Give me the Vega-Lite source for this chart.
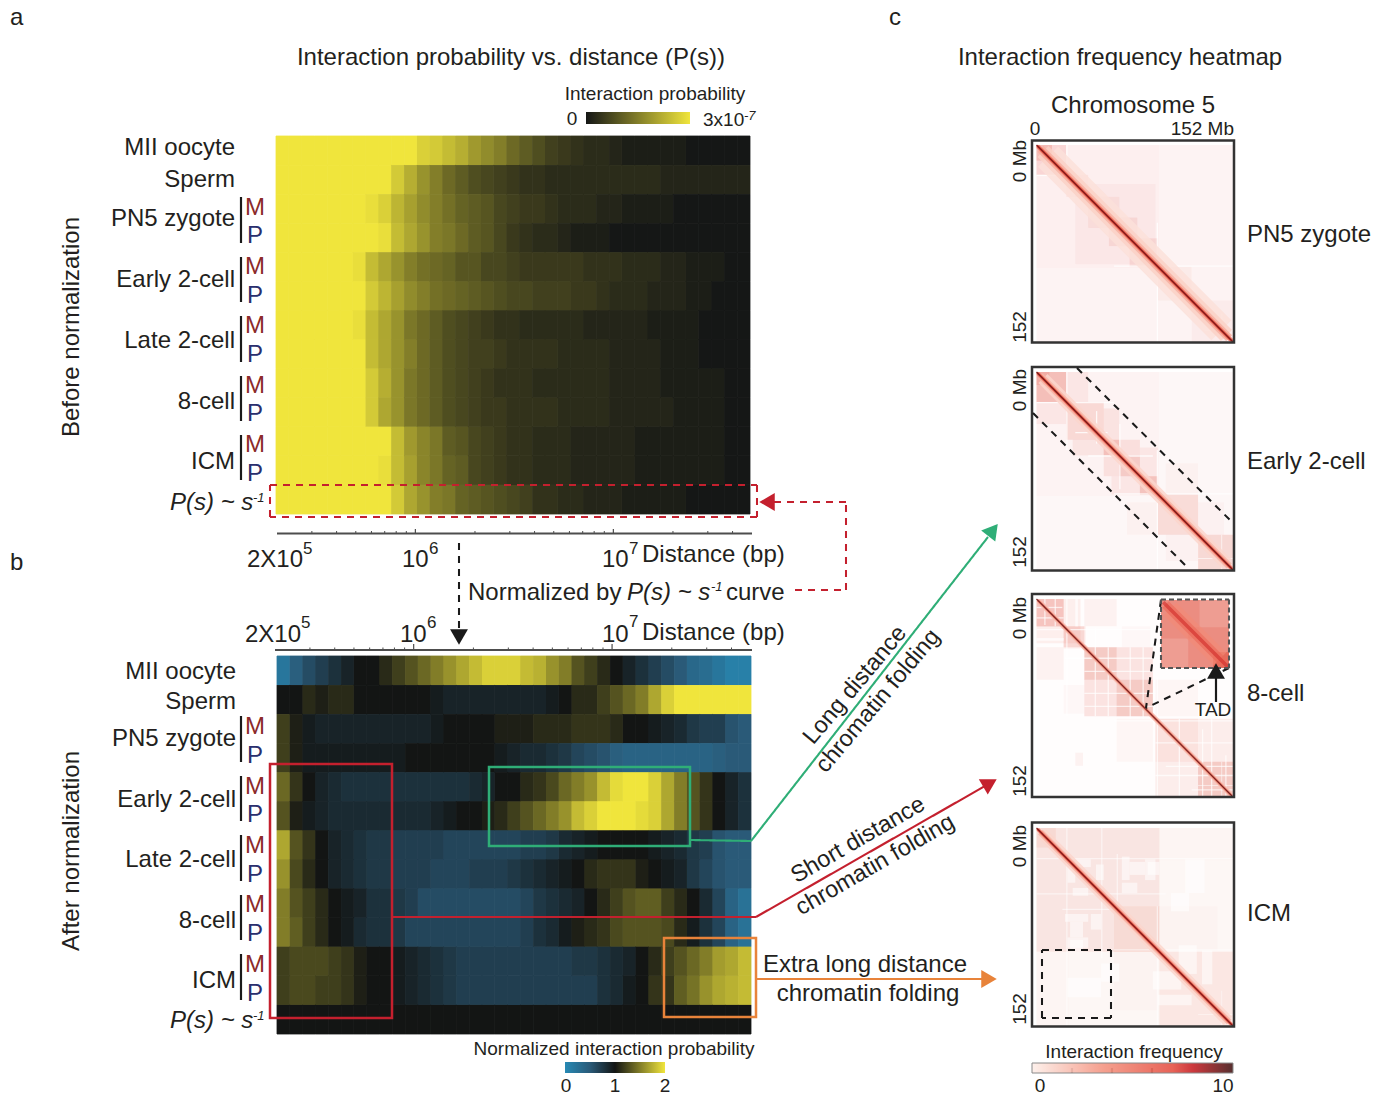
{"$schema":"https://vega.github.io/schema/vega-lite/v6.json","width":1390,"height":1097,"padding":0,"autosize":{"type":"none"},"background":"white","config":{"view":{"stroke":null},"text":{"font":"Liberation Sans","color":"#231f20","dy":1}},
"datasets":{
"beforeNorm":[
{"r":0,"c":0,"v":30},{"r":0,"c":1,"v":30},{"r":0,"c":2,"v":30},{"r":0,"c":3,"v":30},{"r":0,"c":4,"v":30},{"r":0,"c":5,"v":30},{"r":0,"c":6,"v":30},{"r":0,"c":7,"v":30},{"r":0,"c":8,"v":30},{"r":0,"c":9,"v":30},{"r":0,"c":10,"v":30},{"r":0,"c":11,"v":27},{"r":0,"c":12,"v":26},{"r":0,"c":13,"v":24},{"r":0,"c":14,"v":22},{"r":0,"c":15,"v":19},{"r":0,"c":16,"v":17},{"r":0,"c":17,"v":15},{"r":0,"c":18,"v":12},{"r":0,"c":19,"v":10},{"r":0,"c":20,"v":8},{"r":0,"c":21,"v":6},{"r":0,"c":22,"v":5},{"r":0,"c":23,"v":4},{"r":0,"c":24,"v":3},{"r":0,"c":25,"v":3},{"r":0,"c":26,"v":2},{"r":0,"c":27,"v":1},{"r":0,"c":28,"v":1},{"r":0,"c":29,"v":1},{"r":0,"c":30,"v":1},{"r":0,"c":31,"v":1},{"r":0,"c":32,"v":0},{"r":0,"c":33,"v":0},{"r":0,"c":34,"v":0},{"r":0,"c":35,"v":0},{"r":0,"c":36,"v":0},
{"r":1,"c":0,"v":30},{"r":1,"c":1,"v":30},{"r":1,"c":2,"v":30},{"r":1,"c":3,"v":30},{"r":1,"c":4,"v":30},{"r":1,"c":5,"v":30},{"r":1,"c":6,"v":30},{"r":1,"c":7,"v":30},{"r":1,"c":8,"v":30},{"r":1,"c":9,"v":26},{"r":1,"c":10,"v":22},{"r":1,"c":11,"v":18},{"r":1,"c":12,"v":15},{"r":1,"c":13,"v":12},{"r":1,"c":14,"v":10},{"r":1,"c":15,"v":8},{"r":1,"c":16,"v":7},{"r":1,"c":17,"v":6},{"r":1,"c":18,"v":5},{"r":1,"c":19,"v":4},{"r":1,"c":20,"v":4},{"r":1,"c":21,"v":3},{"r":1,"c":22,"v":3},{"r":1,"c":23,"v":3},{"r":1,"c":24,"v":3},{"r":1,"c":25,"v":3},{"r":1,"c":26,"v":3},{"r":1,"c":27,"v":3},{"r":1,"c":28,"v":3},{"r":1,"c":29,"v":3},{"r":1,"c":30,"v":2},{"r":1,"c":31,"v":2},{"r":1,"c":32,"v":2},{"r":1,"c":33,"v":2},{"r":1,"c":34,"v":2},{"r":1,"c":35,"v":2},{"r":1,"c":36,"v":2},
{"r":2,"c":0,"v":30},{"r":2,"c":1,"v":30},{"r":2,"c":2,"v":30},{"r":2,"c":3,"v":30},{"r":2,"c":4,"v":30},{"r":2,"c":5,"v":30},{"r":2,"c":6,"v":30},{"r":2,"c":7,"v":29},{"r":2,"c":8,"v":27},{"r":2,"c":9,"v":23},{"r":2,"c":10,"v":20},{"r":2,"c":11,"v":17},{"r":2,"c":12,"v":15},{"r":2,"c":13,"v":13},{"r":2,"c":14,"v":11},{"r":2,"c":15,"v":10},{"r":2,"c":16,"v":9},{"r":2,"c":17,"v":7},{"r":2,"c":18,"v":6},{"r":2,"c":19,"v":5},{"r":2,"c":20,"v":5},{"r":2,"c":21,"v":4},{"r":2,"c":22,"v":3},{"r":2,"c":23,"v":3},{"r":2,"c":24,"v":3},{"r":2,"c":25,"v":2},{"r":2,"c":26,"v":2},{"r":2,"c":27,"v":1},{"r":2,"c":28,"v":1},{"r":2,"c":29,"v":1},{"r":2,"c":30,"v":1},{"r":2,"c":31,"v":0},{"r":2,"c":32,"v":0},{"r":2,"c":33,"v":0},{"r":2,"c":34,"v":0},{"r":2,"c":35,"v":0},{"r":2,"c":36,"v":0},
{"r":3,"c":0,"v":30},{"r":3,"c":1,"v":30},{"r":3,"c":2,"v":30},{"r":3,"c":3,"v":30},{"r":3,"c":4,"v":30},{"r":3,"c":5,"v":30},{"r":3,"c":6,"v":30},{"r":3,"c":7,"v":30},{"r":3,"c":8,"v":29},{"r":3,"c":9,"v":24},{"r":3,"c":10,"v":21},{"r":3,"c":11,"v":18},{"r":3,"c":12,"v":15},{"r":3,"c":13,"v":14},{"r":3,"c":14,"v":12},{"r":3,"c":15,"v":10},{"r":3,"c":16,"v":9},{"r":3,"c":17,"v":7},{"r":3,"c":18,"v":5},{"r":3,"c":19,"v":4},{"r":3,"c":20,"v":3},{"r":3,"c":21,"v":3},{"r":3,"c":22,"v":2},{"r":3,"c":23,"v":1},{"r":3,"c":24,"v":1},{"r":3,"c":25,"v":1},{"r":3,"c":26,"v":0},{"r":3,"c":27,"v":0},{"r":3,"c":28,"v":0},{"r":3,"c":29,"v":0},{"r":3,"c":30,"v":0},{"r":3,"c":31,"v":0},{"r":3,"c":32,"v":0},{"r":3,"c":33,"v":0},{"r":3,"c":34,"v":0},{"r":3,"c":35,"v":0},{"r":3,"c":36,"v":0},
{"r":4,"c":0,"v":30},{"r":4,"c":1,"v":30},{"r":4,"c":2,"v":30},{"r":4,"c":3,"v":30},{"r":4,"c":4,"v":30},{"r":4,"c":5,"v":30},{"r":4,"c":6,"v":29},{"r":4,"c":7,"v":24},{"r":4,"c":8,"v":21},{"r":4,"c":9,"v":18},{"r":4,"c":10,"v":15},{"r":4,"c":11,"v":13},{"r":4,"c":12,"v":12},{"r":4,"c":13,"v":11},{"r":4,"c":14,"v":9},{"r":4,"c":15,"v":9},{"r":4,"c":16,"v":7},{"r":4,"c":17,"v":7},{"r":4,"c":18,"v":6},{"r":4,"c":19,"v":5},{"r":4,"c":20,"v":5},{"r":4,"c":21,"v":5},{"r":4,"c":22,"v":5},{"r":4,"c":23,"v":5},{"r":4,"c":24,"v":4},{"r":4,"c":25,"v":4},{"r":4,"c":26,"v":4},{"r":4,"c":27,"v":3},{"r":4,"c":28,"v":3},{"r":4,"c":29,"v":3},{"r":4,"c":30,"v":2},{"r":4,"c":31,"v":2},{"r":4,"c":32,"v":1},{"r":4,"c":33,"v":1},{"r":4,"c":34,"v":1},{"r":4,"c":35,"v":0},{"r":4,"c":36,"v":0},
{"r":5,"c":0,"v":30},{"r":5,"c":1,"v":30},{"r":5,"c":2,"v":30},{"r":5,"c":3,"v":30},{"r":5,"c":4,"v":30},{"r":5,"c":5,"v":30},{"r":5,"c":6,"v":30},{"r":5,"c":7,"v":26},{"r":5,"c":8,"v":23},{"r":5,"c":9,"v":20},{"r":5,"c":10,"v":17},{"r":5,"c":11,"v":15},{"r":5,"c":12,"v":13},{"r":5,"c":13,"v":12},{"r":5,"c":14,"v":11},{"r":5,"c":15,"v":10},{"r":5,"c":16,"v":9},{"r":5,"c":17,"v":8},{"r":5,"c":18,"v":7},{"r":5,"c":19,"v":7},{"r":5,"c":20,"v":6},{"r":5,"c":21,"v":6},{"r":5,"c":22,"v":6},{"r":5,"c":23,"v":5},{"r":5,"c":24,"v":5},{"r":5,"c":25,"v":4},{"r":5,"c":26,"v":3},{"r":5,"c":27,"v":3},{"r":5,"c":28,"v":3},{"r":5,"c":29,"v":2},{"r":5,"c":30,"v":2},{"r":5,"c":31,"v":2},{"r":5,"c":32,"v":1},{"r":5,"c":33,"v":1},{"r":5,"c":34,"v":0},{"r":5,"c":35,"v":0},{"r":5,"c":36,"v":0},
{"r":6,"c":0,"v":30},{"r":6,"c":1,"v":30},{"r":6,"c":2,"v":30},{"r":6,"c":3,"v":30},{"r":6,"c":4,"v":30},{"r":6,"c":5,"v":30},{"r":6,"c":6,"v":29},{"r":6,"c":7,"v":24},{"r":6,"c":8,"v":21},{"r":6,"c":9,"v":18},{"r":6,"c":10,"v":14},{"r":6,"c":11,"v":12},{"r":6,"c":12,"v":10},{"r":6,"c":13,"v":8},{"r":6,"c":14,"v":7},{"r":6,"c":15,"v":6},{"r":6,"c":16,"v":5},{"r":6,"c":17,"v":4},{"r":6,"c":18,"v":4},{"r":6,"c":19,"v":3},{"r":6,"c":20,"v":3},{"r":6,"c":21,"v":3},{"r":6,"c":22,"v":3},{"r":6,"c":23,"v":3},{"r":6,"c":24,"v":2},{"r":6,"c":25,"v":2},{"r":6,"c":26,"v":2},{"r":6,"c":27,"v":2},{"r":6,"c":28,"v":2},{"r":6,"c":29,"v":1},{"r":6,"c":30,"v":1},{"r":6,"c":31,"v":1},{"r":6,"c":32,"v":1},{"r":6,"c":33,"v":0},{"r":6,"c":34,"v":0},{"r":6,"c":35,"v":0},{"r":6,"c":36,"v":0},
{"r":7,"c":0,"v":30},{"r":7,"c":1,"v":30},{"r":7,"c":2,"v":30},{"r":7,"c":3,"v":30},{"r":7,"c":4,"v":30},{"r":7,"c":5,"v":30},{"r":7,"c":6,"v":30},{"r":7,"c":7,"v":24},{"r":7,"c":8,"v":21},{"r":7,"c":9,"v":18},{"r":7,"c":10,"v":15},{"r":7,"c":11,"v":12},{"r":7,"c":12,"v":10},{"r":7,"c":13,"v":8},{"r":7,"c":14,"v":7},{"r":7,"c":15,"v":6},{"r":7,"c":16,"v":6},{"r":7,"c":17,"v":5},{"r":7,"c":18,"v":4},{"r":7,"c":19,"v":4},{"r":7,"c":20,"v":4},{"r":7,"c":21,"v":4},{"r":7,"c":22,"v":3},{"r":7,"c":23,"v":3},{"r":7,"c":24,"v":3},{"r":7,"c":25,"v":3},{"r":7,"c":26,"v":2},{"r":7,"c":27,"v":2},{"r":7,"c":28,"v":2},{"r":7,"c":29,"v":2},{"r":7,"c":30,"v":1},{"r":7,"c":31,"v":1},{"r":7,"c":32,"v":1},{"r":7,"c":33,"v":0},{"r":7,"c":34,"v":0},{"r":7,"c":35,"v":0},{"r":7,"c":36,"v":0},
{"r":8,"c":0,"v":30},{"r":8,"c":1,"v":30},{"r":8,"c":2,"v":30},{"r":8,"c":3,"v":30},{"r":8,"c":4,"v":30},{"r":8,"c":5,"v":30},{"r":8,"c":6,"v":30},{"r":8,"c":7,"v":26},{"r":8,"c":8,"v":22},{"r":8,"c":9,"v":18},{"r":8,"c":10,"v":14},{"r":8,"c":11,"v":12},{"r":8,"c":12,"v":10},{"r":8,"c":13,"v":8},{"r":8,"c":14,"v":7},{"r":8,"c":15,"v":6},{"r":8,"c":16,"v":5},{"r":8,"c":17,"v":4},{"r":8,"c":18,"v":4},{"r":8,"c":19,"v":4},{"r":8,"c":20,"v":3},{"r":8,"c":21,"v":3},{"r":8,"c":22,"v":3},{"r":8,"c":23,"v":3},{"r":8,"c":24,"v":3},{"r":8,"c":25,"v":3},{"r":8,"c":26,"v":2},{"r":8,"c":27,"v":2},{"r":8,"c":28,"v":2},{"r":8,"c":29,"v":2},{"r":8,"c":30,"v":1},{"r":8,"c":31,"v":1},{"r":8,"c":32,"v":1},{"r":8,"c":33,"v":1},{"r":8,"c":34,"v":1},{"r":8,"c":35,"v":0},{"r":8,"c":36,"v":0},
{"r":9,"c":0,"v":30},{"r":9,"c":1,"v":30},{"r":9,"c":2,"v":30},{"r":9,"c":3,"v":30},{"r":9,"c":4,"v":30},{"r":9,"c":5,"v":30},{"r":9,"c":6,"v":30},{"r":9,"c":7,"v":26},{"r":9,"c":8,"v":21},{"r":9,"c":9,"v":18},{"r":9,"c":10,"v":14},{"r":9,"c":11,"v":12},{"r":9,"c":12,"v":10},{"r":9,"c":13,"v":8},{"r":9,"c":14,"v":7},{"r":9,"c":15,"v":6},{"r":9,"c":16,"v":5},{"r":9,"c":17,"v":5},{"r":9,"c":18,"v":4},{"r":9,"c":19,"v":4},{"r":9,"c":20,"v":4},{"r":9,"c":21,"v":4},{"r":9,"c":22,"v":3},{"r":9,"c":23,"v":3},{"r":9,"c":24,"v":3},{"r":9,"c":25,"v":3},{"r":9,"c":26,"v":2},{"r":9,"c":27,"v":2},{"r":9,"c":28,"v":2},{"r":9,"c":29,"v":2},{"r":9,"c":30,"v":2},{"r":9,"c":31,"v":1},{"r":9,"c":32,"v":1},{"r":9,"c":33,"v":1},{"r":9,"c":34,"v":1},{"r":9,"c":35,"v":0},{"r":9,"c":36,"v":0},
{"r":10,"c":0,"v":30},{"r":10,"c":1,"v":30},{"r":10,"c":2,"v":30},{"r":10,"c":3,"v":30},{"r":10,"c":4,"v":30},{"r":10,"c":5,"v":30},{"r":10,"c":6,"v":30},{"r":10,"c":7,"v":30},{"r":10,"c":8,"v":30},{"r":10,"c":9,"v":24},{"r":10,"c":10,"v":19},{"r":10,"c":11,"v":16},{"r":10,"c":12,"v":14},{"r":10,"c":13,"v":10},{"r":10,"c":14,"v":9},{"r":10,"c":15,"v":7},{"r":10,"c":16,"v":6},{"r":10,"c":17,"v":5},{"r":10,"c":18,"v":4},{"r":10,"c":19,"v":4},{"r":10,"c":20,"v":3},{"r":10,"c":21,"v":3},{"r":10,"c":22,"v":3},{"r":10,"c":23,"v":2},{"r":10,"c":24,"v":2},{"r":10,"c":25,"v":2},{"r":10,"c":26,"v":2},{"r":10,"c":27,"v":2},{"r":10,"c":28,"v":1},{"r":10,"c":29,"v":1},{"r":10,"c":30,"v":1},{"r":10,"c":31,"v":1},{"r":10,"c":32,"v":1},{"r":10,"c":33,"v":1},{"r":10,"c":34,"v":1},{"r":10,"c":35,"v":0},{"r":10,"c":36,"v":0},
{"r":11,"c":0,"v":30},{"r":11,"c":1,"v":30},{"r":11,"c":2,"v":30},{"r":11,"c":3,"v":30},{"r":11,"c":4,"v":30},{"r":11,"c":5,"v":30},{"r":11,"c":6,"v":30},{"r":11,"c":7,"v":30},{"r":11,"c":8,"v":29},{"r":11,"c":9,"v":24},{"r":11,"c":10,"v":20},{"r":11,"c":11,"v":16},{"r":11,"c":12,"v":14},{"r":11,"c":13,"v":11},{"r":11,"c":14,"v":10},{"r":11,"c":15,"v":7},{"r":11,"c":16,"v":6},{"r":11,"c":17,"v":5},{"r":11,"c":18,"v":4},{"r":11,"c":19,"v":4},{"r":11,"c":20,"v":3},{"r":11,"c":21,"v":3},{"r":11,"c":22,"v":3},{"r":11,"c":23,"v":2},{"r":11,"c":24,"v":2},{"r":11,"c":25,"v":2},{"r":11,"c":26,"v":2},{"r":11,"c":27,"v":2},{"r":11,"c":28,"v":1},{"r":11,"c":29,"v":1},{"r":11,"c":30,"v":1},{"r":11,"c":31,"v":1},{"r":11,"c":32,"v":1},{"r":11,"c":33,"v":1},{"r":11,"c":34,"v":1},{"r":11,"c":35,"v":0},{"r":11,"c":36,"v":0},
{"r":12,"c":0,"v":30},{"r":12,"c":1,"v":30},{"r":12,"c":2,"v":30},{"r":12,"c":3,"v":30},{"r":12,"c":4,"v":30},{"r":12,"c":5,"v":30},{"r":12,"c":6,"v":30},{"r":12,"c":7,"v":30},{"r":12,"c":8,"v":30},{"r":12,"c":9,"v":26},{"r":12,"c":10,"v":21},{"r":12,"c":11,"v":18},{"r":12,"c":12,"v":15},{"r":12,"c":13,"v":14},{"r":12,"c":14,"v":11},{"r":12,"c":15,"v":10},{"r":12,"c":16,"v":9},{"r":12,"c":17,"v":8},{"r":12,"c":18,"v":7},{"r":12,"c":19,"v":6},{"r":12,"c":20,"v":4},{"r":12,"c":21,"v":4},{"r":12,"c":22,"v":3},{"r":12,"c":23,"v":3},{"r":12,"c":24,"v":2},{"r":12,"c":25,"v":2},{"r":12,"c":26,"v":2},{"r":12,"c":27,"v":1},{"r":12,"c":28,"v":1},{"r":12,"c":29,"v":1},{"r":12,"c":30,"v":1},{"r":12,"c":31,"v":1},{"r":12,"c":32,"v":0},{"r":12,"c":33,"v":0},{"r":12,"c":34,"v":0},{"r":12,"c":35,"v":0},{"r":12,"c":36,"v":0}],
"afterNorm":[
{"r":0,"c":0,"v":2},{"r":0,"c":1,"v":4.5},{"r":0,"c":2,"v":6},{"r":0,"c":3,"v":7},{"r":0,"c":4,"v":8},{"r":0,"c":5,"v":9},{"r":0,"c":6,"v":10},{"r":0,"c":7,"v":10},{"r":0,"c":8,"v":11},{"r":0,"c":9,"v":12},{"r":0,"c":10,"v":13},{"r":0,"c":11,"v":14},{"r":0,"c":12,"v":15},{"r":0,"c":13,"v":16},{"r":0,"c":14,"v":17},{"r":0,"c":15,"v":18},{"r":0,"c":16,"v":19},{"r":0,"c":17,"v":19},{"r":0,"c":18,"v":19},{"r":0,"c":19,"v":18},{"r":0,"c":20,"v":17.5},{"r":0,"c":21,"v":16},{"r":0,"c":22,"v":15},{"r":0,"c":23,"v":13},{"r":0,"c":24,"v":12},{"r":0,"c":25,"v":11},{"r":0,"c":26,"v":10},{"r":0,"c":27,"v":9},{"r":0,"c":28,"v":8},{"r":0,"c":29,"v":7},{"r":0,"c":30,"v":6},{"r":0,"c":31,"v":5},{"r":0,"c":32,"v":3.5},{"r":0,"c":33,"v":3},{"r":0,"c":34,"v":2},{"r":0,"c":35,"v":1},{"r":0,"c":36,"v":1},
{"r":1,"c":0,"v":10},{"r":1,"c":1,"v":10},{"r":1,"c":2,"v":11},{"r":1,"c":3,"v":10.5},{"r":1,"c":4,"v":11},{"r":1,"c":5,"v":11},{"r":1,"c":6,"v":10},{"r":1,"c":7,"v":10},{"r":1,"c":8,"v":10},{"r":1,"c":9,"v":10},{"r":1,"c":10,"v":10},{"r":1,"c":11,"v":10},{"r":1,"c":12,"v":9.5},{"r":1,"c":13,"v":9},{"r":1,"c":14,"v":9},{"r":1,"c":15,"v":9},{"r":1,"c":16,"v":9},{"r":1,"c":17,"v":9},{"r":1,"c":18,"v":9},{"r":1,"c":19,"v":9},{"r":1,"c":20,"v":9},{"r":1,"c":21,"v":9.5},{"r":1,"c":22,"v":10},{"r":1,"c":23,"v":11},{"r":1,"c":24,"v":11},{"r":1,"c":25,"v":12},{"r":1,"c":26,"v":13},{"r":1,"c":27,"v":14},{"r":1,"c":28,"v":15},{"r":1,"c":29,"v":17},{"r":1,"c":30,"v":19},{"r":1,"c":31,"v":20},{"r":1,"c":32,"v":20},{"r":1,"c":33,"v":20},{"r":1,"c":34,"v":20},{"r":1,"c":35,"v":20},{"r":1,"c":36,"v":20},
{"r":2,"c":0,"v":12},{"r":2,"c":1,"v":10.5},{"r":2,"c":2,"v":9.5},{"r":2,"c":3,"v":9},{"r":2,"c":4,"v":9},{"r":2,"c":5,"v":9},{"r":2,"c":6,"v":9},{"r":2,"c":7,"v":9},{"r":2,"c":8,"v":9},{"r":2,"c":9,"v":9},{"r":2,"c":10,"v":9},{"r":2,"c":11,"v":9},{"r":2,"c":12,"v":9.5},{"r":2,"c":13,"v":10},{"r":2,"c":14,"v":10},{"r":2,"c":15,"v":10},{"r":2,"c":16,"v":10},{"r":2,"c":17,"v":10.5},{"r":2,"c":18,"v":10.5},{"r":2,"c":19,"v":10.5},{"r":2,"c":20,"v":11},{"r":2,"c":21,"v":11},{"r":2,"c":22,"v":11},{"r":2,"c":23,"v":11.5},{"r":2,"c":24,"v":11.5},{"r":2,"c":25,"v":11.5},{"r":2,"c":26,"v":11},{"r":2,"c":27,"v":10},{"r":2,"c":28,"v":10},{"r":2,"c":29,"v":9.5},{"r":2,"c":30,"v":9},{"r":2,"c":31,"v":8.5},{"r":2,"c":32,"v":7.5},{"r":2,"c":33,"v":7},{"r":2,"c":34,"v":7},{"r":2,"c":35,"v":5.5},{"r":2,"c":36,"v":5},
{"r":3,"c":0,"v":12},{"r":3,"c":1,"v":10.5},{"r":3,"c":2,"v":9.5},{"r":3,"c":3,"v":9.5},{"r":3,"c":4,"v":9.5},{"r":3,"c":5,"v":9.5},{"r":3,"c":6,"v":9.5},{"r":3,"c":7,"v":9.5},{"r":3,"c":8,"v":9.5},{"r":3,"c":9,"v":9.5},{"r":3,"c":10,"v":10},{"r":3,"c":11,"v":10},{"r":3,"c":12,"v":10},{"r":3,"c":13,"v":10},{"r":3,"c":14,"v":10},{"r":3,"c":15,"v":10},{"r":3,"c":16,"v":10},{"r":3,"c":17,"v":9.5},{"r":3,"c":18,"v":9},{"r":3,"c":19,"v":8.5},{"r":3,"c":20,"v":8.5},{"r":3,"c":21,"v":8},{"r":3,"c":22,"v":7.5},{"r":3,"c":23,"v":6.5},{"r":3,"c":24,"v":6},{"r":3,"c":25,"v":5.5},{"r":3,"c":26,"v":4.5},{"r":3,"c":27,"v":4},{"r":3,"c":28,"v":4},{"r":3,"c":29,"v":4},{"r":3,"c":30,"v":4},{"r":3,"c":31,"v":4},{"r":3,"c":32,"v":4},{"r":3,"c":33,"v":4},{"r":3,"c":34,"v":4.5},{"r":3,"c":35,"v":5},{"r":3,"c":36,"v":5},
{"r":4,"c":0,"v":14},{"r":4,"c":1,"v":11.5},{"r":4,"c":2,"v":10},{"r":4,"c":3,"v":9},{"r":4,"c":4,"v":8.5},{"r":4,"c":5,"v":8},{"r":4,"c":6,"v":8},{"r":4,"c":7,"v":8},{"r":4,"c":8,"v":8},{"r":4,"c":9,"v":8},{"r":4,"c":10,"v":8},{"r":4,"c":11,"v":8},{"r":4,"c":12,"v":8},{"r":4,"c":13,"v":8},{"r":4,"c":14,"v":8},{"r":4,"c":15,"v":8.5},{"r":4,"c":16,"v":9},{"r":4,"c":17,"v":10},{"r":4,"c":18,"v":10},{"r":4,"c":19,"v":11},{"r":4,"c":20,"v":11.5},{"r":4,"c":21,"v":12.5},{"r":4,"c":22,"v":14},{"r":4,"c":23,"v":15},{"r":4,"c":24,"v":16},{"r":4,"c":25,"v":18},{"r":4,"c":26,"v":19.5},{"r":4,"c":27,"v":20},{"r":4,"c":28,"v":20},{"r":4,"c":29,"v":19},{"r":4,"c":30,"v":17},{"r":4,"c":31,"v":15},{"r":4,"c":32,"v":13},{"r":4,"c":33,"v":11.5},{"r":4,"c":34,"v":10},{"r":4,"c":35,"v":9},{"r":4,"c":36,"v":8},
{"r":5,"c":0,"v":13},{"r":5,"c":1,"v":10.5},{"r":5,"c":2,"v":9.5},{"r":5,"c":3,"v":9},{"r":5,"c":4,"v":8.5},{"r":5,"c":5,"v":8.5},{"r":5,"c":6,"v":8.5},{"r":5,"c":7,"v":8.5},{"r":5,"c":8,"v":8.5},{"r":5,"c":9,"v":8.5},{"r":5,"c":10,"v":8.5},{"r":5,"c":11,"v":8.5},{"r":5,"c":12,"v":9},{"r":5,"c":13,"v":9.5},{"r":5,"c":14,"v":10},{"r":5,"c":15,"v":10},{"r":5,"c":16,"v":10.5},{"r":5,"c":17,"v":11},{"r":5,"c":18,"v":12},{"r":5,"c":19,"v":13},{"r":5,"c":20,"v":14},{"r":5,"c":21,"v":15},{"r":5,"c":22,"v":16},{"r":5,"c":23,"v":18},{"r":5,"c":24,"v":19},{"r":5,"c":25,"v":20},{"r":5,"c":26,"v":20},{"r":5,"c":27,"v":20},{"r":5,"c":28,"v":19.5},{"r":5,"c":29,"v":19},{"r":5,"c":30,"v":17},{"r":5,"c":31,"v":15},{"r":5,"c":32,"v":13},{"r":5,"c":33,"v":11.5},{"r":5,"c":34,"v":10},{"r":5,"c":35,"v":9},{"r":5,"c":36,"v":8},
{"r":6,"c":0,"v":17},{"r":6,"c":1,"v":13},{"r":6,"c":2,"v":11.5},{"r":6,"c":3,"v":10},{"r":6,"c":4,"v":9},{"r":6,"c":5,"v":8.5},{"r":6,"c":6,"v":8},{"r":6,"c":7,"v":7.5},{"r":6,"c":8,"v":7.5},{"r":6,"c":9,"v":7},{"r":6,"c":10,"v":7},{"r":6,"c":11,"v":7},{"r":6,"c":12,"v":7},{"r":6,"c":13,"v":6.5},{"r":6,"c":14,"v":6.5},{"r":6,"c":15,"v":6.5},{"r":6,"c":16,"v":6.5},{"r":6,"c":17,"v":6.5},{"r":6,"c":18,"v":6.5},{"r":6,"c":19,"v":7},{"r":6,"c":20,"v":7},{"r":6,"c":21,"v":7.5},{"r":6,"c":22,"v":8.5},{"r":6,"c":23,"v":9},{"r":6,"c":24,"v":9.5},{"r":6,"c":25,"v":10},{"r":6,"c":26,"v":10},{"r":6,"c":27,"v":10},{"r":6,"c":28,"v":10},{"r":6,"c":29,"v":9.5},{"r":6,"c":30,"v":9},{"r":6,"c":31,"v":8.5},{"r":6,"c":32,"v":7.5},{"r":6,"c":33,"v":7},{"r":6,"c":34,"v":5.5},{"r":6,"c":35,"v":5},{"r":6,"c":36,"v":5},
{"r":7,"c":0,"v":16},{"r":7,"c":1,"v":12.5},{"r":7,"c":2,"v":11},{"r":7,"c":3,"v":10},{"r":7,"c":4,"v":9},{"r":7,"c":5,"v":8.5},{"r":7,"c":6,"v":8},{"r":7,"c":7,"v":7.5},{"r":7,"c":8,"v":7.5},{"r":7,"c":9,"v":7},{"r":7,"c":10,"v":7},{"r":7,"c":11,"v":7},{"r":7,"c":12,"v":6.5},{"r":7,"c":13,"v":6.5},{"r":7,"c":14,"v":6.5},{"r":7,"c":15,"v":7},{"r":7,"c":16,"v":7},{"r":7,"c":17,"v":7},{"r":7,"c":18,"v":7.5},{"r":7,"c":19,"v":8},{"r":7,"c":20,"v":8.5},{"r":7,"c":21,"v":9},{"r":7,"c":22,"v":9.5},{"r":7,"c":23,"v":10},{"r":7,"c":24,"v":11},{"r":7,"c":25,"v":11.5},{"r":7,"c":26,"v":11.5},{"r":7,"c":27,"v":11.5},{"r":7,"c":28,"v":10.5},{"r":7,"c":29,"v":10},{"r":7,"c":30,"v":9.5},{"r":7,"c":31,"v":9},{"r":7,"c":32,"v":7.5},{"r":7,"c":33,"v":6.5},{"r":7,"c":34,"v":5.5},{"r":7,"c":35,"v":5},{"r":7,"c":36,"v":5},
{"r":8,"c":0,"v":15},{"r":8,"c":1,"v":13},{"r":8,"c":2,"v":12},{"r":8,"c":3,"v":11},{"r":8,"c":4,"v":10},{"r":8,"c":5,"v":9.5},{"r":8,"c":6,"v":9},{"r":8,"c":7,"v":8},{"r":8,"c":8,"v":8},{"r":8,"c":9,"v":7.5},{"r":8,"c":10,"v":7},{"r":8,"c":11,"v":6},{"r":8,"c":12,"v":6},{"r":8,"c":13,"v":6},{"r":8,"c":14,"v":6},{"r":8,"c":15,"v":6},{"r":8,"c":16,"v":6},{"r":8,"c":17,"v":6},{"r":8,"c":18,"v":6},{"r":8,"c":19,"v":6.5},{"r":8,"c":20,"v":7.5},{"r":8,"c":21,"v":8},{"r":8,"c":22,"v":8.5},{"r":8,"c":23,"v":9},{"r":8,"c":24,"v":10},{"r":8,"c":25,"v":11},{"r":8,"c":26,"v":12},{"r":8,"c":27,"v":13},{"r":8,"c":28,"v":13.5},{"r":8,"c":29,"v":13.5},{"r":8,"c":30,"v":12},{"r":8,"c":31,"v":11},{"r":8,"c":32,"v":10},{"r":8,"c":33,"v":8.5},{"r":8,"c":34,"v":6.5},{"r":8,"c":35,"v":4},{"r":8,"c":36,"v":2.5},
{"r":9,"c":0,"v":15},{"r":9,"c":1,"v":13.5},{"r":9,"c":2,"v":12},{"r":9,"c":3,"v":11},{"r":9,"c":4,"v":10},{"r":9,"c":5,"v":9.5},{"r":9,"c":6,"v":8.5},{"r":9,"c":7,"v":8},{"r":9,"c":8,"v":8},{"r":9,"c":9,"v":7.5},{"r":9,"c":10,"v":6.5},{"r":9,"c":11,"v":6.5},{"r":9,"c":12,"v":6.5},{"r":9,"c":13,"v":6.5},{"r":9,"c":14,"v":6.5},{"r":9,"c":15,"v":6.5},{"r":9,"c":16,"v":6.5},{"r":9,"c":17,"v":6.5},{"r":9,"c":18,"v":6.5},{"r":9,"c":19,"v":7},{"r":9,"c":20,"v":8},{"r":9,"c":21,"v":8.5},{"r":9,"c":22,"v":9.5},{"r":9,"c":23,"v":10.5},{"r":9,"c":24,"v":11},{"r":9,"c":25,"v":11.5},{"r":9,"c":26,"v":12.5},{"r":9,"c":27,"v":13},{"r":9,"c":28,"v":13},{"r":9,"c":29,"v":13},{"r":9,"c":30,"v":12.5},{"r":9,"c":31,"v":11},{"r":9,"c":32,"v":9.5},{"r":9,"c":33,"v":8},{"r":9,"c":34,"v":6.5},{"r":9,"c":35,"v":4},{"r":9,"c":36,"v":2.5},
{"r":10,"c":0,"v":12},{"r":10,"c":1,"v":12.5},{"r":10,"c":2,"v":12.5},{"r":10,"c":3,"v":12.5},{"r":10,"c":4,"v":12},{"r":10,"c":5,"v":11.5},{"r":10,"c":6,"v":10.5},{"r":10,"c":7,"v":10},{"r":10,"c":8,"v":10},{"r":10,"c":9,"v":9.5},{"r":10,"c":10,"v":9},{"r":10,"c":11,"v":8.5},{"r":10,"c":12,"v":8},{"r":10,"c":13,"v":7.5},{"r":10,"c":14,"v":7},{"r":10,"c":15,"v":7},{"r":10,"c":16,"v":7},{"r":10,"c":17,"v":7},{"r":10,"c":18,"v":7},{"r":10,"c":19,"v":7},{"r":10,"c":20,"v":7},{"r":10,"c":21,"v":7},{"r":10,"c":22,"v":7},{"r":10,"c":23,"v":7.5},{"r":10,"c":24,"v":7.5},{"r":10,"c":25,"v":8},{"r":10,"c":26,"v":8.5},{"r":10,"c":27,"v":9},{"r":10,"c":28,"v":10},{"r":10,"c":29,"v":11},{"r":10,"c":30,"v":12},{"r":10,"c":31,"v":13},{"r":10,"c":32,"v":14},{"r":10,"c":33,"v":15},{"r":10,"c":34,"v":16.5},{"r":10,"c":35,"v":17},{"r":10,"c":36,"v":18},
{"r":11,"c":0,"v":12},{"r":11,"c":1,"v":12.5},{"r":11,"c":2,"v":12.5},{"r":11,"c":3,"v":12},{"r":11,"c":4,"v":12},{"r":11,"c":5,"v":11.5},{"r":11,"c":6,"v":10.5},{"r":11,"c":7,"v":10},{"r":11,"c":8,"v":10},{"r":11,"c":9,"v":9.5},{"r":11,"c":10,"v":9},{"r":11,"c":11,"v":8.5},{"r":11,"c":12,"v":8},{"r":11,"c":13,"v":7.5},{"r":11,"c":14,"v":7},{"r":11,"c":15,"v":7},{"r":11,"c":16,"v":7},{"r":11,"c":17,"v":7},{"r":11,"c":18,"v":7},{"r":11,"c":19,"v":7},{"r":11,"c":20,"v":7},{"r":11,"c":21,"v":7},{"r":11,"c":22,"v":7},{"r":11,"c":23,"v":7},{"r":11,"c":24,"v":7},{"r":11,"c":25,"v":8},{"r":11,"c":26,"v":8.5},{"r":11,"c":27,"v":9.5},{"r":11,"c":28,"v":10},{"r":11,"c":29,"v":11.5},{"r":11,"c":30,"v":11.5},{"r":11,"c":31,"v":13.5},{"r":11,"c":32,"v":14.5},{"r":11,"c":33,"v":16},{"r":11,"c":34,"v":17},{"r":11,"c":35,"v":17.5},{"r":11,"c":36,"v":18},
{"r":12,"c":0,"v":10},{"r":12,"c":1,"v":10},{"r":12,"c":2,"v":10},{"r":12,"c":3,"v":10},{"r":12,"c":4,"v":10},{"r":12,"c":5,"v":10},{"r":12,"c":6,"v":10},{"r":12,"c":7,"v":10},{"r":12,"c":8,"v":10},{"r":12,"c":9,"v":10},{"r":12,"c":10,"v":10},{"r":12,"c":11,"v":10},{"r":12,"c":12,"v":10},{"r":12,"c":13,"v":10},{"r":12,"c":14,"v":10},{"r":12,"c":15,"v":10},{"r":12,"c":16,"v":10},{"r":12,"c":17,"v":10},{"r":12,"c":18,"v":10},{"r":12,"c":19,"v":10},{"r":12,"c":20,"v":10},{"r":12,"c":21,"v":10},{"r":12,"c":22,"v":10},{"r":12,"c":23,"v":10},{"r":12,"c":24,"v":10},{"r":12,"c":25,"v":10},{"r":12,"c":26,"v":10},{"r":12,"c":27,"v":10},{"r":12,"c":28,"v":10},{"r":12,"c":29,"v":10},{"r":12,"c":30,"v":10},{"r":12,"c":31,"v":10},{"r":12,"c":32,"v":10},{"r":12,"c":33,"v":10},{"r":12,"c":34,"v":10},{"r":12,"c":35,"v":10},{"r":12,"c":36,"v":10}],
"majorTicks":[{"d":1000000},{"d":10000000}],
"minorTicks":[{"d":300000},{"d":400000},{"d":500000},{"d":600000},{"d":700000},{"d":800000},{"d":900000},{"d":2000000},{"d":3000000},{"d":4000000},{"d":5000000},{"d":6000000},{"d":7000000},{"d":8000000},{"d":9000000},{"d":20000000},{"d":30000000},{"d":40000000}],
"zygoteBlocks":[{"a":0,"b":152,"c":0,"d":152,"v":0.3},{"a":0,"b":23,"c":0,"d":23,"v":0.7},{"a":0,"b":12,"c":0,"d":12,"v":1},{"a":0,"b":95,"c":0,"d":95,"v":0.1},{"a":30,"b":92,"c":30,"d":92,"v":0.2},{"a":40,"b":64,"c":40,"d":64,"v":0.35},{"a":56,"b":78,"c":56,"d":78,"v":0.5},{"a":72,"b":94,"c":72,"d":94,"v":0.55},{"a":94,"b":120,"c":94,"d":120,"v":0.25},{"a":120,"b":152,"c":120,"d":152,"v":0.2},{"a":23,"b":40,"c":23,"d":40,"v":0.35}],
"zygoteStripes":[{"a":23,"b":24,"c":0,"d":23},{"a":93,"b":94,"c":60,"d":152},{"a":143,"b":143.6,"c":130,"d":152}],
"zygoteBands":[{"a":9,"b":143,"d":22,"v":0.5},{"a":5,"b":147,"d":12,"v":1.1},{"a":3,"b":149,"d":6.5,"v":2.4},{"a":1,"b":151,"d":3.4,"v":4.6},{"a":0.5,"b":151.5,"d":2,"v":7},{"a":0,"b":152,"d":1.1,"v":9.2}],
"earlyBlocks":[{"a":0,"b":152,"c":0,"d":152,"v":0.18},{"a":0,"b":23,"c":0,"d":23,"v":1.6},{"a":0,"b":10,"c":0,"d":10,"v":0.8},{"a":0,"b":95,"c":0,"d":95,"v":0.12},{"a":23,"b":52,"c":23,"d":52,"v":0.8},{"a":52,"b":64,"c":52,"d":64,"v":1.6},{"a":52,"b":64,"c":28,"d":52,"v":0.9},{"a":64,"b":80,"c":64,"d":80,"v":1.2},{"a":64,"b":80,"c":52,"d":64,"v":1.1},{"a":80,"b":94,"c":80,"d":94,"v":1.5},{"a":80,"b":94,"c":58,"d":80,"v":0.7},{"a":94,"b":125,"c":94,"d":125,"v":0.8},{"a":125,"b":152,"c":125,"d":152,"v":0.9},{"a":23,"b":40,"c":0,"d":23,"v":0.7},{"a":100,"b":125,"c":70,"d":94,"v":0.35},{"a":125,"b":145,"c":100,"d":125,"v":0.3}],
"earlyStripes":[{"a":23,"b":24,"c":0,"d":60},{"a":93,"b":94,"c":60,"d":152},{"a":143,"b":143.6,"c":125,"d":152},{"a":64,"b":65,"c":40,"d":90},{"a":46,"b":47,"c":30,"d":55}],
"earlyBands":[{"a":5,"b":147,"d":10,"v":0.9},{"a":3,"b":149,"d":5.5,"v":2.2},{"a":1,"b":151,"d":3,"v":4.4},{"a":0.5,"b":151.5,"d":1.8,"v":7},{"a":0,"b":152,"d":1,"v":9.4}],
"eightBlocks":[{"a":0,"b":152,"c":0,"d":152,"v":0.05},{"a":0,"b":21,"c":0,"d":21,"v":1.7},{"a":0,"b":38,"c":21,"d":34,"v":0.8},{"a":21,"b":37,"c":21,"d":37,"v":0.7},{"a":37,"b":62,"c":37,"d":62,"v":1.5},{"a":37,"b":62,"c":0,"d":21,"v":0.6},{"a":62,"b":90,"c":62,"d":90,"v":1.5},{"a":62,"b":90,"c":37,"d":62,"v":1.4},{"a":92,"b":125,"c":92,"d":125,"v":0.8},{"a":125,"b":152,"c":125,"d":152,"v":1.5},{"a":125,"b":152,"c":92,"d":125,"v":0.9},{"a":92,"b":125,"c":62,"d":90,"v":0.4},{"a":66,"b":88,"c":21,"d":37,"v":0.3},{"a":30,"b":36,"c":118,"d":128,"v":0.6}],
"eightStripes":[{"a":23,"b":24,"c":0,"d":90},{"a":93,"b":94,"c":60,"d":152},{"a":143,"b":143.6,"c":125,"d":152},{"a":6,"b":7,"c":0,"d":20},{"a":14,"b":15,"c":0,"d":21},{"a":30,"b":32,"c":0,"d":21},{"a":45,"b":46,"c":22,"d":90},{"a":72,"b":73,"c":37,"d":92},{"a":135,"b":136,"c":92,"d":152},{"a":55,"b":56,"c":37,"d":90},{"a":82,"b":83,"c":37,"d":92},{"a":110,"b":111,"c":92,"d":152},{"a":128,"b":129,"c":100,"d":152},{"a":146,"b":147,"c":120,"d":152}],
"eightBands":[{"a":2,"b":150,"d":4,"v":1.8},{"a":1,"b":151,"d":2.2,"v":4.5},{"a":0,"b":152,"d":0.9,"v":9.4}],
"icmBlocks":[{"a":0,"b":152,"c":0,"d":152,"v":0.25},{"a":0,"b":95,"c":0,"d":95,"v":0.5},{"a":95,"b":152,"c":95,"d":152,"v":0.45},{"a":0,"b":15,"c":0,"d":15,"v":0.4},{"a":60,"b":95,"c":60,"d":95,"v":0.35},{"a":95,"b":152,"c":0,"d":25,"v":0.1},{"a":94,"b":140,"c":60,"d":94,"v":0.2}],
"icmStripes":[{"a":23,"b":24,"c":0,"d":152},{"a":93,"b":94,"c":60,"d":152},{"a":143,"b":143.6,"c":125,"d":152},{"a":24,"b":30,"c":30,"d":42},{"a":46,"b":52,"c":28,"d":40},{"a":66,"b":72,"c":22,"d":40},{"a":84,"b":92,"c":24,"d":40},{"a":104,"b":118,"c":50,"d":64},{"a":110,"b":124,"c":90,"d":112},{"a":115,"b":130,"c":24,"d":50},{"a":26,"b":36,"c":72,"d":84},{"a":26,"b":36,"c":86,"d":95},{"a":42,"b":50,"c":66,"d":78},{"a":50,"b":51,"c":0,"d":100},{"a":62,"b":63,"c":20,"d":60},{"a":128,"b":136,"c":94,"d":120}],
"icmBands":[{"a":4,"b":148,"d":9,"v":0.9},{"a":3,"b":149,"d":5,"v":2.2},{"a":1,"b":151,"d":2.8,"v":4.4},{"a":0.5,"b":151.5,"d":1.7,"v":7},{"a":0,"b":152,"d":1,"v":9.2}],
"insetBlocks":[{"a":40,"b":70,"c":40,"d":70,"v":5.4},{"a":40,"b":57,"c":40,"d":57,"v":1.8},{"a":52,"b":70,"c":52,"d":70,"v":1.8},{"a":63,"b":70,"c":63,"d":70,"v":5}],
"insetBands":[{"a":44,"b":66,"d":8,"v":3.8},{"a":42,"b":68,"d":4,"v":5.5},{"a":41,"b":70,"d":1.6,"v":7.6}],
"segments":[
{"x0":277,"y0":533.5,"x1":752,"y1":533.5,"k":"axis"},{"x0":275,"y0":650,"x1":752,"y1":650,"k":"axis"},
{"x0":795,"y0":590,"x1":846,"y1":590,"k":"reddash"},{"x0":846,"y0":590,"x1":846,"y1":502,"k":"reddash"},{"x0":846,"y0":502,"x1":772,"y1":502,"k":"reddash"},
{"x0":270,"y0":485,"x1":757,"y1":485,"k":"reddash"},{"x0":757,"y0":485,"x1":757,"y1":517,"k":"reddash"},{"x0":757,"y0":517,"x1":270,"y1":517,"k":"reddash"},{"x0":270,"y0":517,"x1":270,"y1":485,"k":"reddash"},
{"x0":459,"y0":543,"x1":459,"y1":630,"k":"blackdash"},
{"x0":690,"y0":840,"x1":751,"y1":841,"k":"green"},{"x0":751,"y0":841,"x1":988,"y1":537,"k":"green"},
{"x0":392,"y0":917,"x1":756,"y1":917,"k":"redline"},{"x0":756,"y0":917,"x1":985,"y1":786,"k":"redline"},
{"x0":756,"y0":979,"x1":982,"y1":979,"k":"orange"},
{"x0":1161,"y0":600,"x1":1146,"y1":708,"k":"blackdash"},{"x0":1229,"y0":668,"x1":1146,"y1":708,"k":"blackdash"},
{"x0":1077,"y0":368,"x1":1233,"y1":523,"k":"blackdash"},{"x0":1033,"y0":413,"x1":1188,"y1":568,"k":"blackdash"},
{"x0":1161,"y0":599.5,"x1":1229,"y1":599.5,"k":"graydash"},{"x0":1229,"y0":599.5,"x1":1229,"y1":668,"k":"graydash"},{"x0":1229,"y0":668,"x1":1161,"y1":668,"k":"graydash"},{"x0":1161,"y0":668,"x1":1161,"y1":599.5,"k":"graydash"},
{"x0":1042,"y0":950,"x1":1111,"y1":950,"k":"blackdash"},{"x0":1111,"y0":950,"x1":1111,"y1":1018,"k":"blackdash"},{"x0":1111,"y0":1018,"x1":1042,"y1":1018,"k":"blackdash"},{"x0":1042,"y0":1018,"x1":1042,"y1":950,"k":"blackdash"},
{"x0":1216,"y0":702,"x1":1216,"y1":672,"k":"black"},
{"x0":241,"y0":197,"x1":241,"y1":243,"k":"black"},{"x0":241,"y0":257,"x1":241,"y1":302,"k":"black"},{"x0":241,"y0":316,"x1":241,"y1":362,"k":"black"},{"x0":241,"y0":376,"x1":241,"y1":421,"k":"black"},{"x0":241,"y0":435,"x1":241,"y1":480,"k":"black"},
{"x0":241,"y0":716,"x1":241,"y1":762,"k":"black"},{"x0":241,"y0":776,"x1":241,"y1":821,"k":"black"},{"x0":241,"y0":835,"x1":241,"y1":881,"k":"black"},{"x0":241,"y0":895,"x1":241,"y1":940,"k":"black"},{"x0":241,"y0":954,"x1":241,"y1":1000,"k":"black"},
{"x0":1072,"y0":1068,"x1":1072,"y1":1073,"k":"tick"},{"x0":1112,"y0":1068,"x1":1112,"y1":1073,"k":"tick"},{"x0":1152,"y0":1068,"x1":1152,"y1":1073,"k":"tick"}],
"boxes":[
{"x0":1032,"y0":140.5,"x1":1234,"y1":342.5,"k":"frame"},{"x0":1032,"y0":367,"x1":1234,"y1":570.5,"k":"frame"},{"x0":1032,"y0":594,"x1":1234,"y1":797,"k":"frame"},{"x0":1032,"y0":822.5,"x1":1234,"y1":1026.5,"k":"frame"},
{"x0":270,"y0":764,"x1":392,"y1":1018,"k":"redline"},{"x0":489,"y0":767,"x1":690,"y1":846,"k":"green"},{"x0":664,"y0":938,"x1":756,"y1":1017,"k":"orange"}],
"arrowHeads":[{"x":993,"y":530,"ang":38,"k":"green"},{"x":990,"y":783,"ang":60,"k":"redline"},{"x":989,"y":979,"ang":90,"k":"orange"},{"x":767,"y":502,"ang":270,"k":"reddash"},{"x":459,"y":637,"ang":180,"k":"blackdash"},{"x":1216,"y":671,"ang":0,"k":"black"}]
},
"resolve":{"scale":{"x":"independent","y":"independent","color":"independent","opacity":"independent","strokeWidth":"independent","stroke":"independent","strokeDash":"independent","size":"independent","angle":"independent"}},
"layer":[
{"data":{"name":"beforeNorm"},"mark":{"type":"rect","strokeWidth":0.8,"fillOpacity":0},"encoding":{"x":{"field":"c","type":"ordinal","scale":{"type":"band","range":[276,750],"paddingInner":0,"paddingOuter":0},"axis":null},"y":{"field":"r","type":"ordinal","scale":{"type":"band","range":[136,514],"paddingInner":0,"paddingOuter":0},"axis":null},"stroke":{"field":"v","type":"quantitative","scale":{"domain":[0,30],"range":["#151716","#f0e53c"],"interpolate":"rgb","clamp":true},"legend":null}}},
{"data":{"name":"beforeNorm"},"mark":{"type":"rect"},"encoding":{"x":{"field":"c","type":"ordinal","scale":{"type":"band","range":[276,750],"paddingInner":0,"paddingOuter":0},"axis":null},"y":{"field":"r","type":"ordinal","scale":{"type":"band","range":[136,514],"paddingInner":0,"paddingOuter":0},"axis":null},"color":{"field":"v","type":"quantitative","scale":{"domain":[0,30],"range":["#151716","#f0e53c"],"interpolate":"rgb","clamp":true},"legend":{"orient":"none","legendX":586,"legendY":112,"direction":"horizontal","gradientLength":104,"gradientThickness":12,"title":null,"labelExpr":"''","labelOpacity":0,"padding":0,"gradientStrokeWidth":0}}}},
{"data":{"name":"afterNorm"},"mark":{"type":"rect","strokeWidth":0.8,"fillOpacity":0},"encoding":{"x":{"field":"c","type":"ordinal","scale":{"type":"band","range":[277,751],"paddingInner":0,"paddingOuter":0},"axis":null},"y":{"field":"r","type":"ordinal","scale":{"type":"band","range":[656,1034],"paddingInner":0,"paddingOuter":0},"axis":null},"stroke":{"field":"v","type":"quantitative","scale":{"domain":[0,5,10,20],"range":["#2789b4","#2a5a78","#131514","#f0e53c"],"interpolate":"rgb","clamp":true},"legend":null}}},
{"data":{"name":"afterNorm"},"mark":{"type":"rect"},"encoding":{"x":{"field":"c","type":"ordinal","scale":{"type":"band","range":[277,751],"paddingInner":0,"paddingOuter":0},"axis":null},"y":{"field":"r","type":"ordinal","scale":{"type":"band","range":[656,1034],"paddingInner":0,"paddingOuter":0},"axis":null},"color":{"field":"v","type":"quantitative","scale":{"domain":[0,5,10,20],"range":["#2789b4","#2a5a78","#131514","#f0e53c"],"interpolate":"rgb","clamp":true},"legend":{"orient":"none","legendX":565,"legendY":1062,"direction":"horizontal","gradientLength":100,"gradientThickness":11,"title":null,"labelExpr":"''","labelOpacity":0,"padding":0,"gradientStrokeWidth":0}}}},
{"data":{"name":"majorTicks"},"mark":{"type":"rule","color":"#4d4d4d","strokeWidth":1.2},"encoding":{"x":{"field":"d","type":"quantitative","scale":{"type":"log","domain":[200000,49000000],"range":[277,750]},"axis":null},"y":{"value":529},"y2":{"value":533}}},
{"data":{"name":"minorTicks"},"mark":{"type":"rule","color":"#4d4d4d","strokeWidth":1},"encoding":{"x":{"field":"d","type":"quantitative","scale":{"type":"log","domain":[200000,49000000],"range":[277,750]},"axis":null},"y":{"value":531},"y2":{"value":533}}},
{"data":{"name":"majorTicks"},"mark":{"type":"rule","color":"#4d4d4d","strokeWidth":1.2},"encoding":{"x":{"field":"d","type":"quantitative","scale":{"type":"log","domain":[200000,49000000],"range":[275,749]},"axis":null},"y":{"value":644},"y2":{"value":650}}},
{"data":{"name":"minorTicks"},"mark":{"type":"rule","color":"#4d4d4d","strokeWidth":1},"encoding":{"x":{"field":"d","type":"quantitative","scale":{"type":"log","domain":[200000,49000000],"range":[275,749]},"axis":null},"y":{"value":647.5},"y2":{"value":650}}},

{"data":{"name":"zygoteBlocks"},"mark":{"type":"rect","fill":"#e04a36"},"encoding":{"x":{"field":"a","type":"quantitative","scale":{"domain":[0,152],"range":[1036.5,1233]},"axis":null},"x2":{"field":"b"},"y":{"field":"c","type":"quantitative","scale":{"domain":[0,152],"range":[145,342]},"axis":null},"y2":{"field":"d"},"opacity":{"field":"v","type":"quantitative","scale":{"domain":[0,10],"range":[0,1]},"legend":null}}},
{"data":{"name":"zygoteBlocks"},"mark":{"type":"rect","fill":"#e04a36"},"encoding":{"x":{"field":"c","type":"quantitative","scale":{"domain":[0,152],"range":[1036.5,1233]},"axis":null},"x2":{"field":"d"},"y":{"field":"a","type":"quantitative","scale":{"domain":[0,152],"range":[145,342]},"axis":null},"y2":{"field":"b"},"opacity":{"field":"v","type":"quantitative","scale":{"domain":[0,10],"range":[0,1]},"legend":null}}},
{"data":{"name":"zygoteStripes"},"mark":{"type":"rect","fill":"white","opacity":0.8},"encoding":{"x":{"field":"a","type":"quantitative","scale":{"domain":[0,152],"range":[1036.5,1233]},"axis":null},"x2":{"field":"b"},"y":{"field":"c","type":"quantitative","scale":{"domain":[0,152],"range":[145,342]},"axis":null},"y2":{"field":"d"}}},
{"data":{"name":"zygoteStripes"},"mark":{"type":"rect","fill":"white","opacity":0.8},"encoding":{"x":{"field":"c","type":"quantitative","scale":{"domain":[0,152],"range":[1036.5,1233]},"axis":null},"x2":{"field":"d"},"y":{"field":"a","type":"quantitative","scale":{"domain":[0,152],"range":[145,342]},"axis":null},"y2":{"field":"b"}}},
{"data":{"name":"zygoteBands"},"mark":{"type":"rule","opacity":0.85},"encoding":{"x":{"field":"a","type":"quantitative","scale":{"domain":[0,152],"range":[1036.5,1233]},"axis":null},"x2":{"field":"b"},"y":{"field":"a","type":"quantitative","scale":{"domain":[0,152],"range":[145,342]},"axis":null},"y2":{"field":"b"},"strokeWidth":{"field":"d","type":"quantitative","scale":{"domain":[0,152],"range":[0,196]},"legend":null},"color":{"field":"v","type":"quantitative","scale":{"domain":[0,3.5,7,8,10],"range":["#fdeee8","#f4917d","#e4483a","#c4161c","#3a0c0c"],"interpolate":"rgb"},"legend":{"orient":"none","legendX":1032,"legendY":1063,"direction":"horizontal","gradientLength":201,"gradientThickness":10,"title":null,"labelExpr":"''","labelOpacity":0,"padding":0,"gradientStrokeColor":"#777","gradientStrokeWidth":1}}}},

{"data":{"name":"earlyBlocks"},"mark":{"type":"rect","fill":"#e04a36"},"encoding":{"x":{"field":"a","type":"quantitative","scale":{"domain":[0,152],"range":[1036.5,1233]},"axis":null},"x2":{"field":"b"},"y":{"field":"c","type":"quantitative","scale":{"domain":[0,152],"range":[372,570]},"axis":null},"y2":{"field":"d"},"opacity":{"field":"v","type":"quantitative","scale":{"domain":[0,10],"range":[0,1]},"legend":null}}},
{"data":{"name":"earlyBlocks"},"mark":{"type":"rect","fill":"#e04a36"},"encoding":{"x":{"field":"c","type":"quantitative","scale":{"domain":[0,152],"range":[1036.5,1233]},"axis":null},"x2":{"field":"d"},"y":{"field":"a","type":"quantitative","scale":{"domain":[0,152],"range":[372,570]},"axis":null},"y2":{"field":"b"},"opacity":{"field":"v","type":"quantitative","scale":{"domain":[0,10],"range":[0,1]},"legend":null}}},
{"data":{"name":"earlyStripes"},"mark":{"type":"rect","fill":"white","opacity":0.8},"encoding":{"x":{"field":"a","type":"quantitative","scale":{"domain":[0,152],"range":[1036.5,1233]},"axis":null},"x2":{"field":"b"},"y":{"field":"c","type":"quantitative","scale":{"domain":[0,152],"range":[372,570]},"axis":null},"y2":{"field":"d"}}},
{"data":{"name":"earlyStripes"},"mark":{"type":"rect","fill":"white","opacity":0.8},"encoding":{"x":{"field":"c","type":"quantitative","scale":{"domain":[0,152],"range":[1036.5,1233]},"axis":null},"x2":{"field":"d"},"y":{"field":"a","type":"quantitative","scale":{"domain":[0,152],"range":[372,570]},"axis":null},"y2":{"field":"b"}}},
{"data":{"name":"earlyBands"},"mark":{"type":"rule","opacity":0.85},"encoding":{"x":{"field":"a","type":"quantitative","scale":{"domain":[0,152],"range":[1036.5,1233]},"axis":null},"x2":{"field":"b"},"y":{"field":"a","type":"quantitative","scale":{"domain":[0,152],"range":[372,570]},"axis":null},"y2":{"field":"b"},"strokeWidth":{"field":"d","type":"quantitative","scale":{"domain":[0,152],"range":[0,196]},"legend":null},"color":{"field":"v","type":"quantitative","scale":{"domain":[0,3.5,7,8,10],"range":["#fdeee8","#f4917d","#e4483a","#c4161c","#3a0c0c"],"interpolate":"rgb"},"legend":null}}},

{"data":{"name":"eightBlocks"},"mark":{"type":"rect","fill":"#e04a36"},"encoding":{"x":{"field":"a","type":"quantitative","scale":{"domain":[0,152],"range":[1036.5,1233]},"axis":null},"x2":{"field":"b"},"y":{"field":"c","type":"quantitative","scale":{"domain":[0,152],"range":[599,797]},"axis":null},"y2":{"field":"d"},"opacity":{"field":"v","type":"quantitative","scale":{"domain":[0,10],"range":[0,1]},"legend":null}}},
{"data":{"name":"eightBlocks"},"mark":{"type":"rect","fill":"#e04a36"},"encoding":{"x":{"field":"c","type":"quantitative","scale":{"domain":[0,152],"range":[1036.5,1233]},"axis":null},"x2":{"field":"d"},"y":{"field":"a","type":"quantitative","scale":{"domain":[0,152],"range":[599,797]},"axis":null},"y2":{"field":"b"},"opacity":{"field":"v","type":"quantitative","scale":{"domain":[0,10],"range":[0,1]},"legend":null}}},
{"data":{"name":"eightStripes"},"mark":{"type":"rect","fill":"white","opacity":0.7},"encoding":{"x":{"field":"a","type":"quantitative","scale":{"domain":[0,152],"range":[1036.5,1233]},"axis":null},"x2":{"field":"b"},"y":{"field":"c","type":"quantitative","scale":{"domain":[0,152],"range":[599,797]},"axis":null},"y2":{"field":"d"}}},
{"data":{"name":"eightStripes"},"mark":{"type":"rect","fill":"white","opacity":0.7},"encoding":{"x":{"field":"c","type":"quantitative","scale":{"domain":[0,152],"range":[1036.5,1233]},"axis":null},"x2":{"field":"d"},"y":{"field":"a","type":"quantitative","scale":{"domain":[0,152],"range":[599,797]},"axis":null},"y2":{"field":"b"}}},
{"data":{"name":"eightBands"},"mark":{"type":"rule","opacity":0.85},"encoding":{"x":{"field":"a","type":"quantitative","scale":{"domain":[0,152],"range":[1036.5,1233]},"axis":null},"x2":{"field":"b"},"y":{"field":"a","type":"quantitative","scale":{"domain":[0,152],"range":[599,797]},"axis":null},"y2":{"field":"b"},"strokeWidth":{"field":"d","type":"quantitative","scale":{"domain":[0,152],"range":[0,196]},"legend":null},"color":{"field":"v","type":"quantitative","scale":{"domain":[0,3.5,7,8,10],"range":["#fdeee8","#f4917d","#e4483a","#c4161c","#3a0c0c"],"interpolate":"rgb"},"legend":null}}},

{"data":{"name":"icmBlocks"},"mark":{"type":"rect","fill":"#e04a36"},"encoding":{"x":{"field":"a","type":"quantitative","scale":{"domain":[0,152],"range":[1036.5,1233]},"axis":null},"x2":{"field":"b"},"y":{"field":"c","type":"quantitative","scale":{"domain":[0,152],"range":[828,1026]},"axis":null},"y2":{"field":"d"},"opacity":{"field":"v","type":"quantitative","scale":{"domain":[0,10],"range":[0,1]},"legend":null}}},
{"data":{"name":"icmBlocks"},"mark":{"type":"rect","fill":"#e04a36"},"encoding":{"x":{"field":"c","type":"quantitative","scale":{"domain":[0,152],"range":[1036.5,1233]},"axis":null},"x2":{"field":"d"},"y":{"field":"a","type":"quantitative","scale":{"domain":[0,152],"range":[828,1026]},"axis":null},"y2":{"field":"b"},"opacity":{"field":"v","type":"quantitative","scale":{"domain":[0,10],"range":[0,1]},"legend":null}}},
{"data":{"name":"icmStripes"},"mark":{"type":"rect","fill":"white","opacity":0.55},"encoding":{"x":{"field":"a","type":"quantitative","scale":{"domain":[0,152],"range":[1036.5,1233]},"axis":null},"x2":{"field":"b"},"y":{"field":"c","type":"quantitative","scale":{"domain":[0,152],"range":[828,1026]},"axis":null},"y2":{"field":"d"}}},
{"data":{"name":"icmStripes"},"mark":{"type":"rect","fill":"white","opacity":0.55},"encoding":{"x":{"field":"c","type":"quantitative","scale":{"domain":[0,152],"range":[1036.5,1233]},"axis":null},"x2":{"field":"d"},"y":{"field":"a","type":"quantitative","scale":{"domain":[0,152],"range":[828,1026]},"axis":null},"y2":{"field":"b"}}},
{"data":{"name":"icmBands"},"mark":{"type":"rule","opacity":0.85},"encoding":{"x":{"field":"a","type":"quantitative","scale":{"domain":[0,152],"range":[1036.5,1233]},"axis":null},"x2":{"field":"b"},"y":{"field":"a","type":"quantitative","scale":{"domain":[0,152],"range":[828,1026]},"axis":null},"y2":{"field":"b"},"strokeWidth":{"field":"d","type":"quantitative","scale":{"domain":[0,152],"range":[0,196]},"legend":null},"color":{"field":"v","type":"quantitative","scale":{"domain":[0,3.5,7,8,10],"range":["#fdeee8","#f4917d","#e4483a","#c4161c","#3a0c0c"],"interpolate":"rgb"},"legend":null}}},

{"data":{"values":[{"a":40,"b":70,"c":40,"d":70}]},"mark":{"type":"rect","fill":"white"},"encoding":{"x":{"field":"a","type":"quantitative","scale":{"domain":[40,70],"range":[1161,1229]},"axis":null},"x2":{"field":"b"},"y":{"field":"c","type":"quantitative","scale":{"domain":[40,70],"range":[600,668]},"axis":null},"y2":{"field":"d"}}},
{"data":{"name":"insetBlocks"},"mark":{"type":"rect","fill":"#e04a36"},"encoding":{"x":{"field":"a","type":"quantitative","scale":{"domain":[40,70],"range":[1161,1229]},"axis":null},"x2":{"field":"b"},"y":{"field":"c","type":"quantitative","scale":{"domain":[40,70],"range":[600,668]},"axis":null},"y2":{"field":"d"},"opacity":{"field":"v","type":"quantitative","scale":{"domain":[0,10],"range":[0,1]},"legend":null}}},
{"data":{"name":"insetBands"},"mark":{"type":"rule","opacity":0.6},"encoding":{"x":{"field":"a","type":"quantitative","scale":{"domain":[40,70],"range":[1161,1229]},"axis":null},"x2":{"field":"b"},"y":{"field":"a","type":"quantitative","scale":{"domain":[40,70],"range":[600,668]},"axis":null},"y2":{"field":"b"},"strokeWidth":{"field":"d","type":"quantitative","scale":{"domain":[0,30],"range":[0,68]},"legend":null},"color":{"field":"v","type":"quantitative","scale":{"domain":[0,3.5,7,8,10],"range":["#fdeee8","#f4917d","#e4483a","#c4161c","#3a0c0c"],"interpolate":"rgb"},"legend":null}}},

{"data":{"name":"boxes"},"mark":{"type":"rect","fillOpacity":0},"encoding":{"x":{"field":"x0","type":"quantitative","scale":{"domain":[0,1390],"range":[0,1390]},"axis":null},"x2":{"field":"x1"},"y":{"field":"y0","type":"quantitative","scale":{"domain":[0,1097],"range":[0,1097]},"axis":null},"y2":{"field":"y1"},"stroke":{"field":"k","type":"nominal","scale":{"domain":["frame","redline","green","orange"],"range":["#333333","#c4202e","#2fae77","#e8833a"]},"legend":null},"strokeWidth":{"field":"k","type":"ordinal","scale":{"domain":["frame","redline","green","orange"],"range":[2.5,2.5,3,3]},"legend":null}}},
{"data":{"name":"segments"},"mark":{"type":"rule"},"encoding":{"x":{"field":"x0","type":"quantitative","scale":{"domain":[0,1390],"range":[0,1390]},"axis":null},"x2":{"field":"x1"},"y":{"field":"y0","type":"quantitative","scale":{"domain":[0,1097],"range":[0,1097]},"axis":null},"y2":{"field":"y1"},"color":{"field":"k","type":"nominal","scale":{"domain":["axis","reddash","blackdash","graydash","green","redline","orange","black","tick"],"range":["#4d4d4d","#c4202e","#1a1a1a","#555555","#2fae77","#c4202e","#e8833a","#1a1a1a","#888888"]},"legend":null},"strokeWidth":{"field":"k","type":"ordinal","scale":{"domain":["axis","reddash","blackdash","graydash","green","redline","orange","black","tick"],"range":[2,2.2,2.2,1.8,2.5,3,3,3,1]},"legend":null},"strokeDash":{"field":"k","type":"nominal","scale":{"domain":["axis","reddash","blackdash","graydash","green","redline","orange","black","tick"],"range":[[1,0],[7,6],[7,6],[5,3],[1,0],[1,0],[1,0],[1,0],[1,0]]},"legend":null}}},
{"data":{"name":"arrowHeads"},"mark":{"type":"point","shape":"triangle-up","filled":true,"opacity":1},"encoding":{"x":{"field":"x","type":"quantitative","scale":{"domain":[0,1390],"range":[0,1390]},"axis":null},"y":{"field":"y","type":"quantitative","scale":{"domain":[0,1097],"range":[0,1097]},"axis":null},"angle":{"field":"ang","type":"quantitative","scale":null},"color":{"field":"k","type":"nominal","scale":{"domain":["green","redline","orange","reddash","blackdash","black"],"range":["#2fae77","#c4202e","#e8833a","#c4202e","#1a1a1a","#1a1a1a"]},"legend":null},"size":{"field":"k","type":"ordinal","scale":{"domain":["green","redline","orange","reddash","blackdash","black"],"range":[320,320,320,130,90,190]},"legend":null}}},

{"data":{"values":[{"x":10,"y":17,"t":"a"},{"x":10,"y":562,"t":"b"},{"x":889,"y":17,"t":"c"},{"x":1247,"y":234,"t":"PN5 zygote"},{"x":1247,"y":461,"t":"Early 2-cell"},{"x":1247,"y":693,"t":"8-cell"},{"x":1247,"y":913,"t":"ICM"},{"x":642,"y":554,"t":"Distance (bp)"},{"x":642,"y":632,"t":"Distance (bp)"},{"x":247,"y":559,"t":"2X10"},{"x":402,"y":559,"t":"10"},{"x":602,"y":559,"t":"10"},{"x":245,"y":634,"t":"2X10"},{"x":400,"y":634,"t":"10"},{"x":602,"y":634,"t":"10"},{"x":468,"y":592,"t":"Normalized by"},{"x":726,"y":592,"t":"curve"}]},"mark":{"type":"text","align":"left","baseline":"middle","fontSize":24},"encoding":{"x":{"field":"x","type":"quantitative","scale":{"domain":[0,1390],"range":[0,1390]},"axis":null},"y":{"field":"y","type":"quantitative","scale":{"domain":[0,1097],"range":[0,1097]},"axis":null},"text":{"field":"t"}}},
{"data":{"values":[{"x":235,"y":147,"t":"MII oocyte"},{"x":235,"y":179,"t":"Sperm"},{"x":235,"y":218,"t":"PN5 zygote"},{"x":235,"y":279,"t":"Early 2-cell"},{"x":235,"y":340,"t":"Late 2-cell"},{"x":235,"y":401,"t":"8-cell"},{"x":235,"y":461,"t":"ICM"},{"x":236,"y":671,"t":"MII oocyte"},{"x":236,"y":701,"t":"Sperm"},{"x":236,"y":738,"t":"PN5 zygote"},{"x":236,"y":799,"t":"Early 2-cell"},{"x":236,"y":859,"t":"Late 2-cell"},{"x":236,"y":920,"t":"8-cell"},{"x":236,"y":980,"t":"ICM"}]},"mark":{"type":"text","align":"right","baseline":"middle","fontSize":24},"encoding":{"x":{"field":"x","type":"quantitative","scale":{"domain":[0,1390],"range":[0,1390]},"axis":null},"y":{"field":"y","type":"quantitative","scale":{"domain":[0,1097],"range":[0,1097]},"axis":null},"text":{"field":"t"}}},
{"data":{"values":[{"x":511,"y":57,"t":"Interaction probability vs. distance (P(s))"},{"x":1120,"y":57,"t":"Interaction frequency heatmap"},{"x":1133,"y":105,"t":"Chromosome 5"},{"x":865,"y":964,"t":"Extra long distance"},{"x":868,"y":993,"t":"chromatin folding"}]},"mark":{"type":"text","align":"center","baseline":"middle","fontSize":24},"encoding":{"x":{"field":"x","type":"quantitative","scale":{"domain":[0,1390],"range":[0,1390]},"axis":null},"y":{"field":"y","type":"quantitative","scale":{"domain":[0,1097],"range":[0,1097]},"axis":null},"text":{"field":"t"}}},
{"data":{"values":[{"x":255,"y":207,"t":"M"},{"x":255,"y":235,"t":"P"},{"x":255,"y":266,"t":"M"},{"x":255,"y":295,"t":"P"},{"x":255,"y":325,"t":"M"},{"x":255,"y":354,"t":"P"},{"x":255,"y":385,"t":"M"},{"x":255,"y":413,"t":"P"},{"x":255,"y":444,"t":"M"},{"x":255,"y":473,"t":"P"},{"x":255,"y":726,"t":"M"},{"x":255,"y":755,"t":"P"},{"x":255,"y":786,"t":"M"},{"x":255,"y":814,"t":"P"},{"x":255,"y":845,"t":"M"},{"x":255,"y":874,"t":"P"},{"x":255,"y":904,"t":"M"},{"x":255,"y":933,"t":"P"},{"x":255,"y":964,"t":"M"},{"x":255,"y":993,"t":"P"}]},"mark":{"type":"text","align":"center","baseline":"middle","fontSize":24},"encoding":{"x":{"field":"x","type":"quantitative","scale":{"domain":[0,1390],"range":[0,1390]},"axis":null},"y":{"field":"y","type":"quantitative","scale":{"domain":[0,1097],"range":[0,1097]},"axis":null},"text":{"field":"t"},"color":{"field":"t","type":"nominal","scale":{"domain":["M","P"],"range":["#8b2a2a","#2a2f6e"]},"legend":null}}},
{"data":{"values":[{"x":72,"y":327,"t":"Before normalization"},{"x":72,"y":851,"t":"After normalization"}]},"mark":{"type":"text","align":"center","baseline":"middle","fontSize":24,"angle":270,"dy":0},"encoding":{"x":{"field":"x","type":"quantitative","scale":{"domain":[0,1390],"range":[0,1390]},"axis":null},"y":{"field":"y","type":"quantitative","scale":{"domain":[0,1097],"range":[0,1097]},"axis":null},"text":{"field":"t"}}},
{"data":{"values":[{"x":855,"y":685,"t":"Long distance"},{"x":878,"y":701,"t":"chromatin folding"}]},"mark":{"type":"text","align":"center","baseline":"middle","fontSize":23.5,"angle":310,"dy":0},"encoding":{"x":{"field":"x","type":"quantitative","scale":{"domain":[0,1390],"range":[0,1390]},"axis":null},"y":{"field":"y","type":"quantitative","scale":{"domain":[0,1097],"range":[0,1097]},"axis":null},"text":{"field":"t"}}},
{"data":{"values":[{"x":858,"y":840,"t":"Short distance"},{"x":875,"y":865,"t":"chromatin folding"}]},"mark":{"type":"text","align":"center","baseline":"middle","fontSize":23.5,"angle":330,"dy":0},"encoding":{"x":{"field":"x","type":"quantitative","scale":{"domain":[0,1390],"range":[0,1390]},"axis":null},"y":{"field":"y","type":"quantitative","scale":{"domain":[0,1097],"range":[0,1097]},"axis":null},"text":{"field":"t"}}},
{"data":{"values":[{"x":655,"y":93,"t":"Interaction probability"},{"x":572,"y":118,"t":"0"},{"x":614,"y":1048,"t":"Normalized interaction probability"},{"x":566,"y":1085,"t":"0"},{"x":615,"y":1085,"t":"1"},{"x":665,"y":1085,"t":"2"},{"x":1134,"y":1051,"t":"Interaction frequency"},{"x":1040,"y":1085,"t":"0"},{"x":1223,"y":1085,"t":"10"},{"x":1035,"y":128,"t":"0"},{"x":1213,"y":709,"t":"TAD"}]},"mark":{"type":"text","align":"center","baseline":"middle","fontSize":19},"encoding":{"x":{"field":"x","type":"quantitative","scale":{"domain":[0,1390],"range":[0,1390]},"axis":null},"y":{"field":"y","type":"quantitative","scale":{"domain":[0,1097],"range":[0,1097]},"axis":null},"text":{"field":"t"}}},
{"data":{"values":[{"x":1234,"y":128,"t":"152 Mb"}]},"mark":{"type":"text","align":"right","baseline":"middle","fontSize":19},"encoding":{"x":{"field":"x","type":"quantitative","scale":{"domain":[0,1390],"range":[0,1390]},"axis":null},"y":{"field":"y","type":"quantitative","scale":{"domain":[0,1097],"range":[0,1097]},"axis":null},"text":{"field":"t"}}},
{"data":{"values":[{"x":703,"y":119,"t":"3x10"}]},"mark":{"type":"text","align":"left","baseline":"middle","fontSize":19},"encoding":{"x":{"field":"x","type":"quantitative","scale":{"domain":[0,1390],"range":[0,1390]},"axis":null},"y":{"field":"y","type":"quantitative","scale":{"domain":[0,1097],"range":[0,1097]},"axis":null},"text":{"field":"t"}}},
{"data":{"values":[{"x":1020,"y":161,"t":"0 Mb"},{"x":1020,"y":327,"t":"152"},{"x":1020,"y":390,"t":"0 Mb"},{"x":1020,"y":552,"t":"152"},{"x":1020,"y":618,"t":"0 Mb"},{"x":1020,"y":781,"t":"152"},{"x":1020,"y":846,"t":"0 Mb"},{"x":1020,"y":1009,"t":"152"}]},"mark":{"type":"text","align":"center","baseline":"middle","fontSize":19,"angle":270,"dy":0},"encoding":{"x":{"field":"x","type":"quantitative","scale":{"domain":[0,1390],"range":[0,1390]},"axis":null},"y":{"field":"y","type":"quantitative","scale":{"domain":[0,1097],"range":[0,1097]},"axis":null},"text":{"field":"t"}}},
{"data":{"values":[{"x":303,"y":548,"t":"5"},{"x":429,"y":548,"t":"6"},{"x":629,"y":548,"t":"7"},{"x":301,"y":622,"t":"5"},{"x":427,"y":622,"t":"6"},{"x":629,"y":621,"t":"7"}]},"mark":{"type":"text","align":"left","baseline":"middle","fontSize":17},"encoding":{"x":{"field":"x","type":"quantitative","scale":{"domain":[0,1390],"range":[0,1390]},"axis":null},"y":{"field":"y","type":"quantitative","scale":{"domain":[0,1097],"range":[0,1097]},"axis":null},"text":{"field":"t"}}},
{"data":{"values":[{"x":744,"y":115,"t":"-7"},{"x":711,"y":586,"t":"-1"},{"x":253,"y":497,"t":"-1"},{"x":253,"y":1015,"t":"-1"}]},"mark":{"type":"text","align":"left","baseline":"middle","fontSize":13,"fontStyle":"italic"},"encoding":{"x":{"field":"x","type":"quantitative","scale":{"domain":[0,1390],"range":[0,1390]},"axis":null},"y":{"field":"y","type":"quantitative","scale":{"domain":[0,1097],"range":[0,1097]},"axis":null},"text":{"field":"t"}}},
{"data":{"values":[{"x":627,"y":592,"t":"P(s) ~ s"},{"x":170,"y":502,"t":"P(s) ~ s"},{"x":170,"y":1020,"t":"P(s) ~ s"}]},"mark":{"type":"text","align":"left","baseline":"middle","fontSize":24,"fontStyle":"italic"},"encoding":{"x":{"field":"x","type":"quantitative","scale":{"domain":[0,1390],"range":[0,1390]},"axis":null},"y":{"field":"y","type":"quantitative","scale":{"domain":[0,1097],"range":[0,1097]},"axis":null},"text":{"field":"t"}}}
]}
